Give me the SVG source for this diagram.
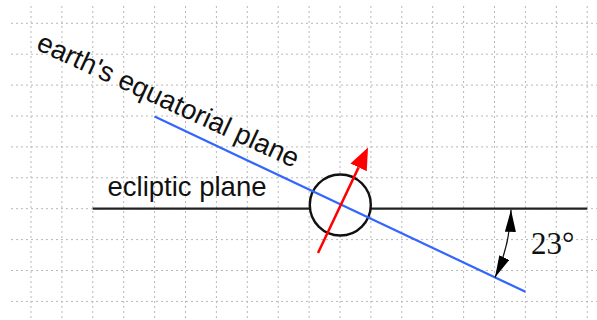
<svg xmlns="http://www.w3.org/2000/svg" width="597" height="320" viewBox="0 0 597 320">
<style>
.grid line{stroke:#b8b8b8;stroke-width:1;stroke-dasharray:2 3;fill:none}
.lbl{font-family:"Liberation Sans",Arial,sans-serif;font-size:27.5px;fill:#111}
.deg{font-family:"Liberation Serif","Times New Roman",serif;font-size:31px;fill:#111}
</style>
<defs>
<marker id="ah" markerUnits="userSpaceOnUse" viewBox="0 0 22 11" markerWidth="22" markerHeight="11" refX="22" refY="5.5" orient="auto-start-reverse">
<path d="M0,0 L22,5.5 L0,11 z" fill="#000"/>
</marker>
<marker id="rh" markerUnits="userSpaceOnUse" viewBox="0 0 22 18" markerWidth="22" markerHeight="18" refX="0" refY="9" orient="auto">
<path d="M0,0 L22,9 L0,18 z" fill="#ff0000"/>
</marker>
</defs>
<rect width="597" height="320" fill="#fff"/>
<g class="grid">
<line x1="31" y1="6" x2="31" y2="320"/>
<line x1="61.9" y1="6" x2="61.9" y2="320"/>
<line x1="92.8" y1="6" x2="92.8" y2="320"/>
<line x1="123.7" y1="6" x2="123.7" y2="320"/>
<line x1="154.6" y1="6" x2="154.6" y2="320"/>
<line x1="185.5" y1="6" x2="185.5" y2="320"/>
<line x1="216.4" y1="6" x2="216.4" y2="320"/>
<line x1="247.3" y1="6" x2="247.3" y2="320"/>
<line x1="278.2" y1="6" x2="278.2" y2="320"/>
<line x1="309.1" y1="6" x2="309.1" y2="320"/>
<line x1="340" y1="6" x2="340" y2="320"/>
<line x1="370.9" y1="6" x2="370.9" y2="320"/>
<line x1="401.8" y1="6" x2="401.8" y2="320"/>
<line x1="432.7" y1="6" x2="432.7" y2="320"/>
<line x1="463.6" y1="6" x2="463.6" y2="320"/>
<line x1="494.5" y1="6" x2="494.5" y2="320"/>
<line x1="525.4" y1="6" x2="525.4" y2="320"/>
<line x1="556.3" y1="6" x2="556.3" y2="320"/>
<line x1="587.2" y1="6" x2="587.2" y2="320"/>
<line x1="11" y1="23.3" x2="597" y2="23.3"/>
<line x1="11" y1="54.2" x2="597" y2="54.2"/>
<line x1="11" y1="85.1" x2="597" y2="85.1"/>
<line x1="11" y1="116" x2="597" y2="116"/>
<line x1="11" y1="146.9" x2="597" y2="146.9"/>
<line x1="11" y1="177.8" x2="597" y2="177.8"/>
<line x1="11" y1="208.7" x2="597" y2="208.7"/>
<line x1="11" y1="239.6" x2="597" y2="239.6"/>
<line x1="11" y1="270.5" x2="597" y2="270.5"/>
<line x1="11" y1="301.4" x2="597" y2="301.4"/>
</g>
<g id="ecliptic">
<line x1="92.8" y1="208.7" x2="587.2" y2="208.7" stroke="#222" stroke-width="2.2"/>
</g>
<g id="earth">
<circle cx="340.3" cy="205" r="30.5" fill="#fff" stroke="#111" stroke-width="2.4"/>
</g>
<g id="connectors">
<line id="equatorial" x1="154.6" y1="116.5" x2="525.4" y2="291.7" stroke="#3366ff" stroke-width="2.2"/>
<line id="axis" x1="318" y1="253" x2="358.6" y2="167.4" stroke="#ff0000" stroke-width="2.5" marker-end="url(#rh)"/>
<path id="angle" d="M511,209.8 A171,171 0 0 1 495,277.5" fill="none" stroke="#111" stroke-width="1.3" marker-start="url(#ah)" marker-end="url(#ah)"/>
</g>
<g id="labels">
<text class="lbl" transform="translate(35,49) rotate(24.7)">earth's equatorial plane</text>
<text class="lbl" x="107.5" y="195.7">ecliptic plane</text>
<text class="deg" x="531" y="253.5">23°</text>
</g>
</svg>
